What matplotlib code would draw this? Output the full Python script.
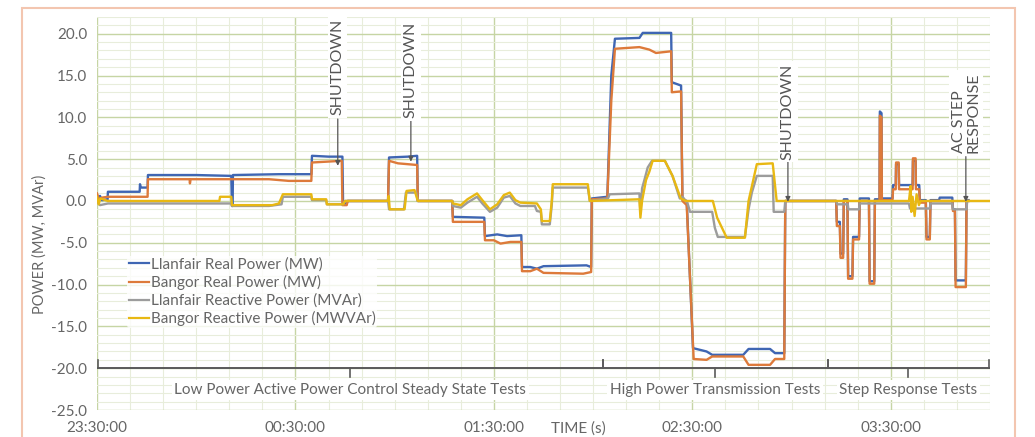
import matplotlib
matplotlib.use('Agg')
import matplotlib.pyplot as plt
from matplotlib.ticker import MultipleLocator, FuncFormatter
from matplotlib.patches import Rectangle

# time = minutes after 23:30:00, value = MW / MVAr
llanfair_real = [
    (0, 0.2), (0.9, 0.6), (1.5, 0.1), (3.2, 0.2), (3.3, 1.1), (12.9, 1.1), (13.0, 2.0), (13.2, 1.6),
    (15.3, 1.6), (15.4, 3.1), (30, 3.1), (40.6, 3.0), (40.8, -0.6), (41.0, -0.6), (41.1, 3.1), (55, 3.2),
    (64.8, 3.2), (65.0, 5.4), (70, 5.3), (74.2, 5.3), (74.4, -0.3), (75.5, -0.3), (75.8, 0.0), (88.0, 0.0),
    (88.3, 5.2), (94, 5.3), (96.8, 5.4), (97.0, 0.0), (107.4, 0.0), (107.6, -1.9), (117.1, -2.0),
    (117.3, -4.2), (121, -4.0), (124, -4.2), (128.3, -4.1), (128.5, -7.9), (131, -7.9), (133, -8.1),
    (135, -7.8), (148, -7.7), (149.4, -7.9), (149.6, 0.3), (154.3, 0.5), (155.5, 15.0), (156.6, 19.4),
    (164.0, 19.5), (165.0, 20.1), (173.6, 20.1), (173.8, 14.2), (176.6, 13.8), (177.0, 0.2), (178.3, 0.0),
    (180.2, -17.6), (184.3, -18.0), (186, -18.4), (195.4, -18.4), (197, -17.7), (203.5, -17.7),
    (205, -18.2), (207.8, -18.2), (208.1, 0.0), (223.5, 0.0), (223.7, -2.5), (224.6, -2.5), (224.8, -6.3),
    (225.6, -6.3), (225.8, 0.2), (226.9, 0.2), (227.1, -9.0), (228.4, -9.0), (228.6, -4.3), (230.4, -4.3),
    (230.6, 0.3), (233.4, 0.3), (233.6, -9.6), (235.0, -9.6), (235.2, 0.2), (236.6, 0.2), (236.7, 10.7),
    (237.2, 10.5), (237.3, 0.3), (240.5, 0.3), (240.7, 1.9), (241.5, 1.9), (241.6, 4.4), (242.4, 4.4),
    (242.5, 1.9), (246.6, 1.9), (246.7, 4.8), (247.5, 4.8), (247.6, 1.9), (248.6, 1.9), (248.8, 0.1),
    (250.6, 0.1), (250.8, -4.3), (251.8, -4.3), (252.0, 0.1), (254.6, 0.1), (254.8, 0.4), (258.6, 0.4),
    (258.8, -1.0), (259.4, -1.0), (259.6, -9.5), (262.7, -9.5), (262.9, 0.1), (263.5, 0.1),
]

bangor_real = [
    (0, 0.9), (0.6, 0.2), (1.5, 0.4), (3.3, 0.5), (15.3, 0.5), (15.4, 2.6), (28.0, 2.6), (28.1, 2.1),
    (28.3, 2.6), (52, 2.6), (58, 2.4), (64.8, 2.4), (65.0, 4.6), (74.0, 4.8), (74.2, -0.5), (75.5, -0.5),
    (75.8, 0.0), (88.0, 0.0), (88.3, 4.8), (91, 4.5), (96.8, 4.3), (97.0, 0.0), (107.4, 0.0), (107.6, -2.5),
    (117.1, -2.5), (117.3, -4.7), (120, -4.7), (122, -5.1), (125, -4.9), (128.3, -4.9), (128.5, -8.4),
    (131, -8.4), (133, -8.1), (135, -8.6), (147, -8.7), (149.4, -8.5), (149.6, 0.2), (154.3, 0.3),
    (155.5, 12.0), (156.6, 18.2), (164.0, 18.4), (167, 18.1), (169, 17.7), (173.6, 17.9), (173.8, 13.0),
    (176.6, 13.1), (177.0, 0.0), (178.3, -0.5), (180.4, -18.9), (184.3, -19.0), (186, -18.6),
    (195.4, -18.6), (197, -19.6), (203.5, -19.6), (205, -18.9), (207.8, -18.9), (208.1, 0.0), (223.5, 0.0),
    (223.7, -3.0), (224.6, -3.0), (224.8, -6.8), (225.6, -6.8), (225.8, 0.0), (226.9, 0.0), (227.1, -9.3),
    (228.4, -9.3), (228.6, -4.6), (230.4, -4.6), (230.6, 0.0), (233.4, 0.0), (233.6, -9.9), (235.0, -9.9),
    (235.2, 0.0), (236.6, 0.0), (236.7, 10.2), (237.2, 10.0), (237.3, 0.1), (240.5, 0.1), (240.7, 1.4),
    (241.5, 1.4), (241.6, 4.6), (242.4, 4.6), (242.5, 1.4), (246.6, 1.4), (246.7, 5.1), (247.5, 5.1),
    (247.6, 1.4), (248.6, 1.4), (248.8, -0.2), (250.6, -0.2), (250.8, -4.6), (251.8, -4.6), (252.0, 0.0),
    (258.6, 0.0), (258.8, -1.2), (259.4, -1.2), (259.6, -10.3), (262.7, -10.3), (262.9, 0.0), (263.5, 0.0),
]

llanfair_reactive = [
    (0, -0.1), (0.9, -0.5), (3.3, -0.3), (40.6, -0.3), (40.8, -0.6), (52, -0.6), (55.8, -0.4), (56.2, 0.5),
    (64.8, 0.5), (65.0, 0.1), (69.3, 0.1), (69.5, -0.4), (74.4, -0.4), (75.0, 0.0), (88.0, 0.0), (88.3, -1.0),
    (92.8, -1.0), (93.4, 1.0), (96.5, 1.0), (97.0, 0.0), (107.4, 0.0), (107.6, -0.6), (110, -0.8),
    (112, -0.2), (114.9, 0.5), (116.5, -0.3), (118.8, -1.3), (121, -0.8), (123, 0.4), (124.8, 0.6),
    (126.5, -0.3), (128, -0.6), (132.4, -0.6), (133, -1.2), (134.2, -1.3), (134.5, -2.8), (136.9, -2.8),
    (137.5, -0.5), (137.8, 1.6), (148.4, 1.6), (149, 0.0), (154.5, 0.3), (155, 0.8), (164.0, 0.9),
    (164.3, -1.5), (164.8, 1.5), (165.5, 2.5), (166.5, 4.0), (167.8, 4.8), (171.7, 4.8), (174, 3.0),
    (176.2, 0.3), (177.0, 0.5), (178.5, -0.2), (179.3, -1.3), (186.0, -1.3), (186.8, -3.2), (187.7, -4.3),
    (195.9, -4.3), (197.0, -1.0), (198.0, 1.0), (199.5, 3.0), (204.3, 3.0), (204.6, -1.3), (207.8, -1.3),
    (208.1, 0.0), (223.5, 0.0), (223.8, -0.4), (227.0, -0.4), (227.2, -1.0), (230.4, -1.0), (230.6, -0.3),
    (245.5, -0.3), (245.8, -0.9), (251.8, -0.9), (252.0, -0.3), (258.6, -0.3), (258.8, -1.0),
    (262.9, -1.0), (263.1, 0.0), (263.5, 0.0),
]

bangor_reactive = [
    (0, 0.5), (0.5, -0.4), (1.0, 0.3), (3.3, 0.0), (37.0, 0.0), (37.2, 0.5), (40.6, 0.5), (40.8, -0.5),
    (53, -0.5), (55, -0.3), (56.2, 0.8), (64.8, 0.8), (65.0, 0.2), (69.3, 0.2), (69.5, -0.4), (74.4, -0.4),
    (75.0, 0.0), (88.0, 0.0), (88.2, 0.6), (88.5, -1.0), (93.0, -1.0), (93.6, 1.2), (96.0, 1.3), (97.0, 0.0),
    (107.4, 0.0), (107.6, -0.3), (110, -0.5), (112, 0.2), (114.9, 0.9), (116.5, 0.1), (118.8, -1.0),
    (121, -0.4), (123, 0.7), (124.8, 1.0), (126.5, 0.1), (128, -0.2), (133, -0.3), (134.2, -1.0),
    (134.5, -2.4), (136.9, -2.4), (137.5, 0.0), (137.8, 2.0), (148.4, 2.0), (149, 0.0), (164.0, 0.2),
    (164.3, -2.0), (164.8, 0.0), (166, 2.5), (167, 3.5), (168, 4.8), (171.7, 4.8), (174, 3.0), (176.5, 0.3),
    (178, 0.0), (186.2, 0.0), (187.5, -2.0), (190.4, -4.4), (195.9, -4.4), (197, 0.0), (199.5, 4.4),
    (204.3, 4.5), (205.5, 0.0), (245.5, 0.0), (246, 1.8), (246.2, -1.3), (246.6, 0.5), (247.2, -1.8),
    (247.8, 0.8), (248.5, -0.5), (249, 0.0), (270, 0.0),
]

series = [
    ('Llanfair Real Power (MW)', llanfair_real, '#3F66B3'),
    ('Bangor Real Power (MW)', bangor_real, '#DD7A3A'),
    ('Llanfair Reactive Power (MVAr)', llanfair_reactive, '#9C9C9C'),
    ('Bangor Reactive Power (MWVAr)', bangor_reactive, '#E8B812'),
]

# test phases: (start, end, label)
phases = [
    (0.3, 152.9, 'Low Power Active Power Control Steady State Tests'),
    (152.9, 221.0, 'High Power Transmission Tests'),
    (221.0, 269.7, 'Step Response Tests'),
]

# event markers: (time, arrow top, arrow tip, text y, label)
events = [
    (72.8, 9.8, 4.2, 16.0, 'SHUTDOWN'),
    (94.9, 10.0, 4.7, 15.7, 'SHUTDOWN'),
    (208.9, 4.7, -0.1, 10.7, 'SHUTDOWN'),
    (262.7, 5.3, -0.1, 10.5, 'AC STEP\nRESPONSE'),
]

plt.rcParams['font.family'] = ['Lato', 'DejaVu Sans']
grey = '#666666'

fig = plt.figure(figsize=(10.35, 4.37), dpi=100)
ax = fig.add_axes([97 / 1035, 27 / 437, 893 / 1035, 393 / 437])

for name, pts, col in series:
    t, v = zip(*pts)
    ax.plot(t, v, color=col, lw=1.7, label=name, zorder=3)

ax.set_xlim(0, 270)
ax.set_ylim(-25, 22)
ax.xaxis.set_major_locator(MultipleLocator(60))
ax.xaxis.set_minor_locator(MultipleLocator(10))
ax.yaxis.set_major_locator(MultipleLocator(5))
ax.yaxis.set_minor_locator(MultipleLocator(1))


def clock(m, pos):
    tot = int(round(23 * 60 + 30 + m)) % 1440
    return '%02d:%02d:00' % (tot // 60, tot % 60)


ax.xaxis.set_major_formatter(FuncFormatter(clock))
ax.yaxis.set_major_formatter(FuncFormatter(lambda v, p: '%.1f' % v))
ax.tick_params(which='both', length=0, colors=grey, labelsize=11)
ax.tick_params(axis='x', pad=8)
ax.tick_params(axis='y', pad=7)
ax.grid(which='major', color='#C6D5A4', lw=1.0)
ax.grid(which='minor', color='#E8EDDB', lw=0.8)
ax.set_axisbelow(True)
for s in ax.spines.values():
    s.set_visible(False)

# phase braces along -20
ax.plot([0.3, 269.7], [-20, -20], color='#5A5A5A', lw=1.4, zorder=4)
for start, end, label in phases:
    mid = (start + end) / 2
    for edge in (start, end):
        ax.plot([edge, edge], [-20, -19], color='#5A5A5A', lw=1.2, zorder=4)
    ax.plot([mid, mid], [-20, -21.1], color='#5A5A5A', lw=1.2, zorder=4)
    ax.text(mid, -22.6, label, ha='center', va='center', fontsize=11, color=grey,
            bbox=dict(fc='white', ec='none', pad=2), zorder=4)

for t, top, tip, ty, label in events:
    ax.annotate('', xy=(t, tip), xytext=(t, top),
                arrowprops=dict(arrowstyle='-|>', color='#555555', lw=0.9,
                                mutation_scale=7, shrinkA=0, shrinkB=0), zorder=5)
    ax.text(t, ty, label, rotation=90, ha='center', va='center', fontsize=11.5,
            color='#555555', multialignment='left', linespacing=1.05,
            bbox=dict(fc='white', ec='none', pad=2), zorder=5)

leg = ax.legend(loc='upper left', bbox_to_anchor=(0.034, 0.392), fontsize=11,
                handlelength=1.3, handletextpad=0.15, labelspacing=0.22,
                borderaxespad=0, borderpad=0.1, frameon=True, labelcolor=grey)
leg.get_frame().set_facecolor('white')
leg.get_frame().set_edgecolor('none')
leg.get_frame().set_alpha(0.8)
for ln in leg.get_lines():
    ln.set_linewidth(1.6)

fig.text(40 / 1035, 1 - 244 / 437, 'POWER (MW, MVAr)', rotation=90, ha='center', va='center',
         fontsize=10.5, color=grey)
fig.text(578 / 1035, 1 - 429 / 437, 'TIME (s)', ha='center', va='center', fontsize=11, color=grey)

fig.patches.append(Rectangle((22 / 1035, -0.05), 993 / 1035, 1 - 8 / 437 + 0.05,
                             transform=fig.transFigure, fill=False, ec='#F3C6B0', lw=1.5))

fig.savefig('out.png', dpi=100)
